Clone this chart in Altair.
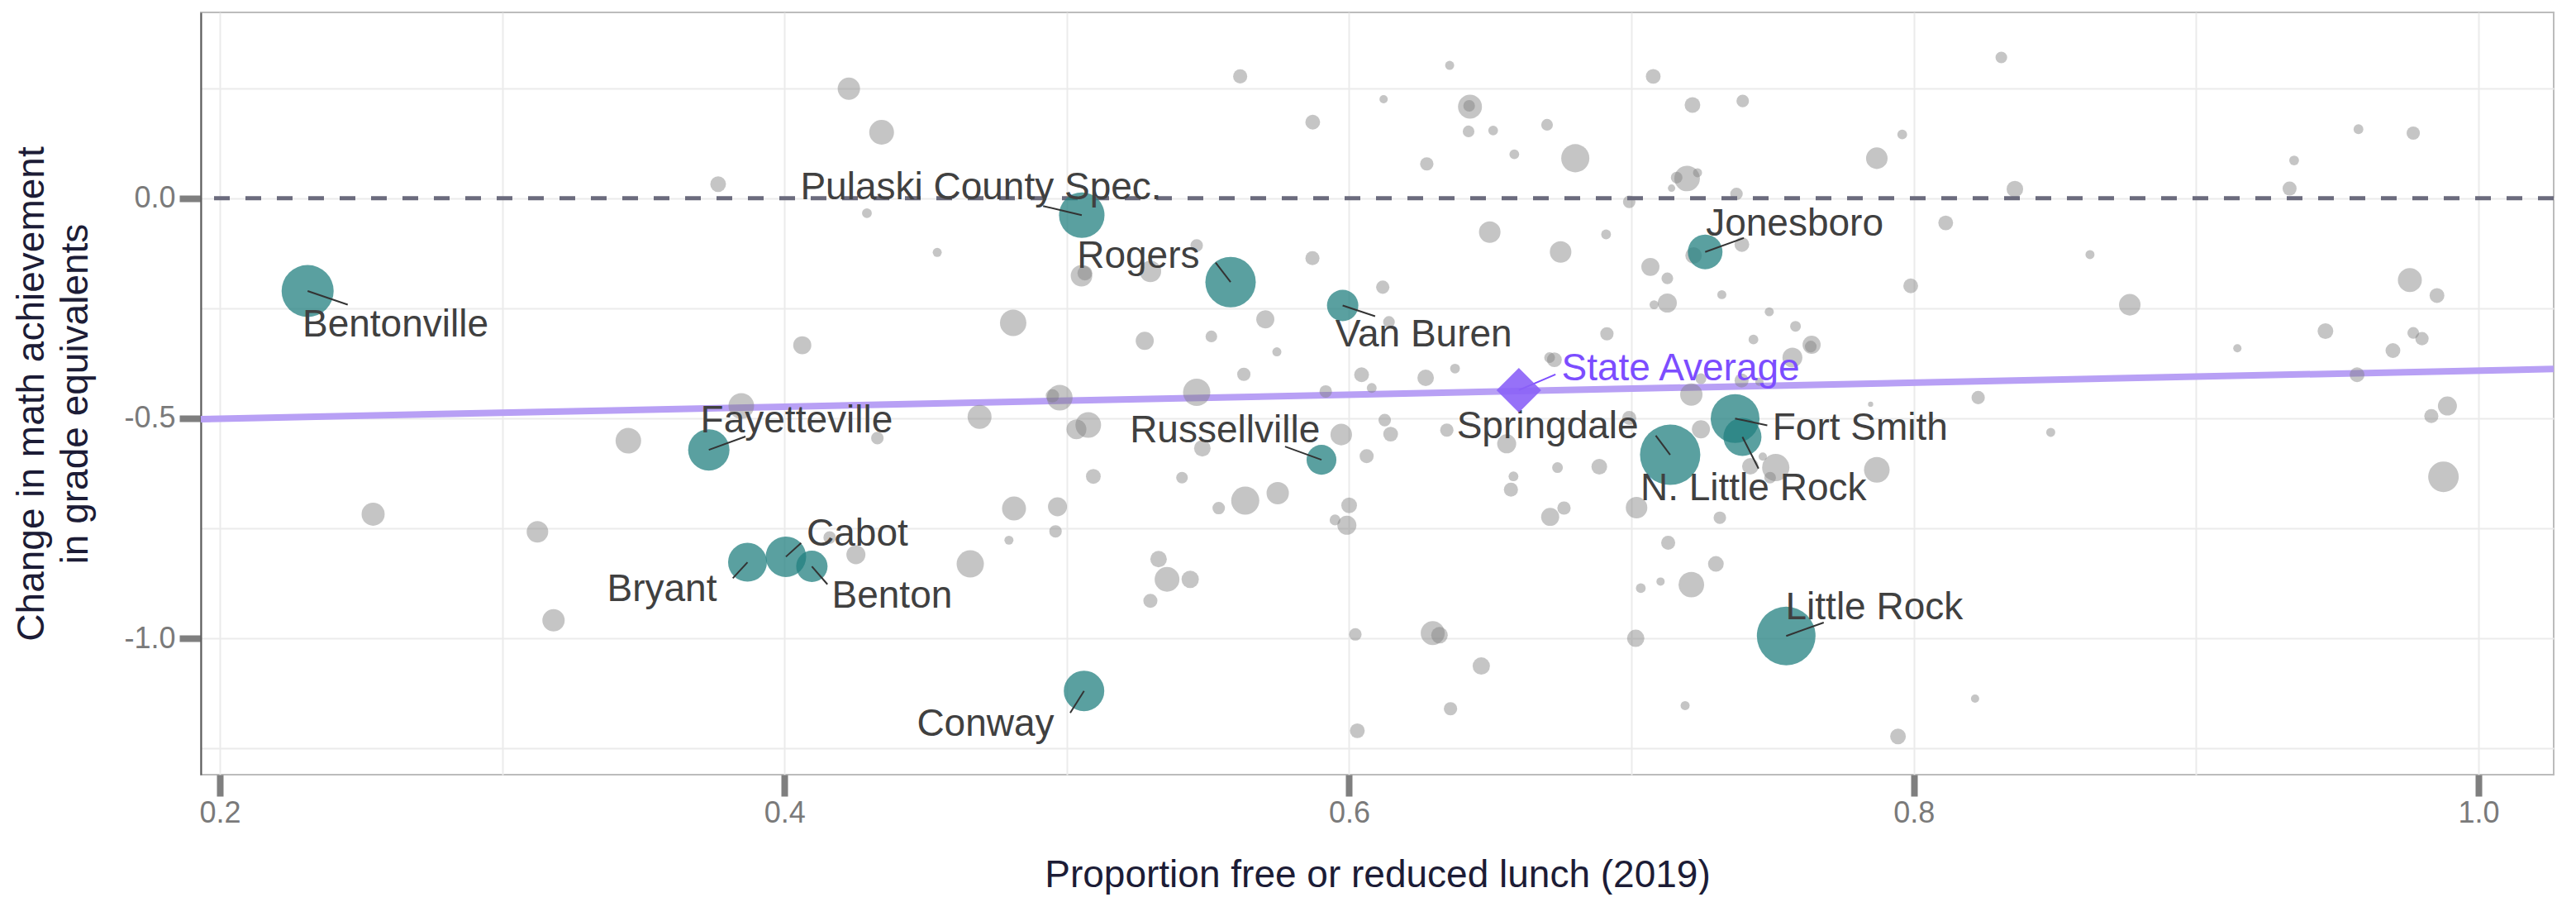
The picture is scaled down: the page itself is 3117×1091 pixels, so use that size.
import altair as alt
import pandas as pd

# ---------------- data ----------------
# other districts (grey bubbles)
gray_frl = [0.3447, 0.4228, 0.4344, 0.5614, 0.5871, 0.3765, 0.4292, 0.4541, 0.5052, 0.5064,
            0.5296, 0.546, 0.587, 0.481, 0.5703, 0.4063, 0.5276, 0.5512, 0.5744, 0.5627,
            0.4975, 0.4949, 0.546, 0.3847, 0.4691, 0.5076, 0.5034, 0.4329, 0.548, 0.6356,
            0.7077, 0.6122, 0.6428, 0.6425, 0.7216, 0.7394, 0.7959, 0.6423, 0.651, 0.6701,
            0.6585, 0.6275, 0.6801, 0.7869, 0.7197, 0.716, 0.7234, 0.7142, 0.7372, 0.6992,
            0.8113, 0.6498, 0.691, 0.722, 0.7391, 0.6749, 0.7067, 0.7127, 0.7989, 0.6119,
            0.732, 0.7127, 0.708, 0.7488, 0.6141, 0.6913, 0.7581, 0.7432, 0.7638, 0.7635,
            0.6727, 0.671, 0.757, 0.6044, 0.6271, 0.6375, 0.608, 0.5917, 0.7246, 0.739,
            0.7453, 0.7212, 0.8228, 0.7847, 0.6992, 0.6126, 0.5972, 0.6147, 0.6346, 0.6558,
            0.7246, 0.831, 0.9575, 0.9769, 0.9347, 0.8358, 0.9331, 0.8624, 0.8765, 0.9757,
            0.9853, 0.9458, 0.9146, 0.9769, 0.98, 0.9697, 0.957, 0.989, 0.9833, 0.8485,
            0.2543, 0.3125, 0.3182, 0.5094, 0.5408, 0.5632, 0.5747, 0.5538, 0.4813, 0.4967,
            0.496, 0.4795, 0.416, 0.4253, 0.4658, 0.5325, 0.5355, 0.5437, 0.5296, 0.6062,
            0.6738, 0.6886, 0.6582, 0.6573, 0.6, 0.6761, 0.6712, 0.595, 0.5992, 0.7018,
            0.7313, 0.7421, 0.7511, 0.7491, 0.7869, 0.7465, 0.713, 0.7299, 0.7212, 0.7033,
            0.7103, 0.6022, 0.6296, 0.632, 0.7015, 0.6468, 0.6359, 0.719, 0.6029, 0.7944,
            0.8217, 0.9876]
gray_change = [-0.551, 0.249, 0.150, 0.277, 0.173, 0.032, -0.034, -0.123, -0.176, -0.170,
               -0.166, -0.107, -0.136, -0.283, -0.275, -0.334, -0.324, -0.314, -0.349, -0.400,
               -0.453, -0.449, -0.441, -0.472, -0.497, -0.515, -0.525, -0.545, -0.568, 0.302,
               0.277, 0.225, 0.208, 0.210, 0.212, 0.221, 0.145, 0.152, 0.154, 0.167,
               0.100, 0.078, 0.091, 0.091, 0.045, 0.047, 0.058, 0.023, 0.010, -0.008,
               -0.056, -0.077, -0.082, -0.130, -0.105, -0.122, -0.156, -0.182, -0.199, -0.202,
               -0.219, -0.238, -0.242, -0.258, -0.281, -0.308, -0.291, -0.321, -0.333, -0.337,
               -0.367, -0.362, -0.362, -0.401, -0.408, -0.387, -0.431, -0.439, -0.410, -0.414,
               -0.417, -0.446, -0.453, -0.468, -0.499, -0.504, -0.537, -0.536, -0.527, -0.558,
               -0.525, 0.320, 0.157, 0.148, 0.086, 0.021, 0.022, -0.128, -0.242, -0.186,
               -0.221, -0.302, -0.341, -0.306, -0.319, -0.346, -0.401, -0.472, -0.495, -0.532,
               -0.718, -0.758, -0.959, -0.632, -0.635, -0.687, -0.670, -0.704, -0.705, -0.701,
               -0.757, -0.777, -0.771, -0.810, -0.831, -0.820, -0.866, -0.866, -0.915, -0.586,
               -0.612, -0.610, -0.632, -0.662, -0.698, -0.704, -0.724, -0.731, -0.743, -0.703,
               -0.726, -0.609, -0.612, -0.635, -0.617, -0.587, -0.783, -0.831, -0.878, -0.886,
               -0.871, -0.991, -0.988, -0.993, -1.000, -1.063, -1.160, -1.153, -1.210, -1.223,
               -1.137, -0.633]
gray_enroll = [9.6, 7.3, 9.0, 2.9, 3.2, 3.6, 1.4, 1.2, 6.8, 3.2,
               6.8, 2.3, 2.9, 10.2, 4.8, 4.8, 4.8, 2.0, 1.2, 2.6,
               9.6, 2.6, 10.9, 9.6, 8.4, 9.6, 5.8, 2.3, 4.0, 1.2,
               3.2, 1.0, 8.4, 2.0, 3.6, 2.3, 1.4, 2.0, 1.4, 2.0,
               1.4, 2.6, 11.6, 6.8, 9.6, 2.0, 1.2, 0.8, 2.3, 2.3,
               3.2, 6.8, 1.4, 4.0, 3.2, 6.8, 4.8, 2.0, 3.2, 2.6,
               1.2, 5.3, 1.2, 1.2, 2.0, 2.6, 1.7, 1.4, 4.8, 2.0,
               3.2, 1.7, 5.8, 3.2, 4.0, 1.4, 1.4, 2.3, 1.7, 2.9,
               1.0, 7.3, 2.6, 0.4, 2.9, 2.3, 6.8, 3.2, 2.6, 5.3,
               4.8, 2.0, 1.4, 2.6, 1.4, 4.0, 2.9, 1.2, 6.8, 8.4,
               3.2, 3.6, 1.0, 2.0, 2.6, 3.2, 3.2, 5.3, 2.9, 1.2,
               7.8, 6.8, 7.3, 3.2, 2.0, 11.6, 7.3, 2.3, 8.4, 5.3,
               2.3, 1.2, 2.3, 5.3, 10.9, 4.0, 9.0, 4.4, 2.9, 2.9,
               1.7, 3.6, 1.4, 2.9, 3.6, 2.6, 4.8, 1.7, 5.3, 6.8,
               2.3, 4.0, 10.9, 2.0, 9.6, 1.0, 2.9, 3.6, 9.6, 1.4,
               1.0, 2.3, 8.4, 4.0, 4.4, 4.4, 2.6, 1.2, 3.2, 3.6,
               1.0, 13.7]

# highlighted districts (teal bubbles)
dist_names = ["Bentonville", "Pulaski County Spec.", "Rogers", "Van Buren", "Jonesboro",
              "Fayetteville", "Russellville", "Springdale", "Fort Smith", "N. Little Rock",
              "Little Rock", "Cabot", "Bryant", "Benton", "Conway"]
dist_frl = [0.2311, 0.5053, 0.558, 0.5977, 0.7261, 0.3732, 0.5902, 0.7137, 0.7367, 0.7393,
            0.7548, 0.4005, 0.3869, 0.4097, 0.5061]
dist_change = [-0.2108, -0.0383, -0.1905, -0.2436, -0.1219, -0.5718, -0.5943, -0.583, -0.5004,
               -0.5423, -0.9946, -0.8146, -0.8272, -0.8366, -1.1196]
dist_enroll = [39.7, 30.3, 37.2, 14.4, 17.6, 25.0, 13.0, 53.3, 34.8, 21.2, 50.4, 24.0, 22.1,
               14.4, 24.0]
# repelled label anchors and leader-line ends
label_frl = [0.2622, 0.4696, 0.5253, 0.6264, 0.7578, 0.4043, 0.556, 0.6703, 0.781, 0.7432,
             0.786, 0.4258, 0.3566, 0.4381, 0.4712]
label_change = [-0.2884, 0.0246, -0.132, -0.3112, -0.0577, -0.5056, -0.5286, -0.5195, -0.5222,
                -0.6595, -0.9297, -0.7624, -0.889, -0.9046, -1.1954]
leader_frl = [0.2453, 0.4916, 0.5527, 0.6092, 0.7398, 0.3862, 0.5773, 0.7086, 0.7481, 0.745,
              0.7681, 0.4059, 0.3817, 0.4152, 0.5012]
leader_change = [-0.2417, -0.0177, -0.1461, -0.268, -0.0902, -0.5415, -0.5642, -0.5393, -0.516,
                 -0.6144, -0.9641, -0.7834, -0.8635, -0.8773, -1.1696]

# state average
state_name = ["State Average"]
state_frl = [0.6601]
state_change = [-0.436]
state_label_frl = [0.7174]
state_label_change = [-0.3868]
state_leader_frl = [0.6731]
state_leader_change = [-0.4002]

# state trend line and reference line
trend_frl = [0.19327, 1.02664]
trend_change = [-0.502, -0.388]
zero_ref = [0.0]

x_ticks = [0.2, 0.3, 0.4, 0.5, 0.6, 0.7, 0.8, 0.9, 1.0]
y_ticks = [0.25, 0.0, -0.25, -0.5, -0.75, -1.0, -1.25]
X_DOMAIN = [0.19327, 1.02664]
Y_DOMAIN = [-1.3099, 0.4224]

# ---------------- tables ----------------
gray_df = pd.DataFrame({"frl": gray_frl, "change": gray_change, "enroll": gray_enroll})
dist_df = pd.DataFrame({"name": dist_names, "frl": dist_frl, "change": dist_change,
                        "enroll": dist_enroll, "frl2": leader_frl, "change2": leader_change})
label_df = pd.DataFrame({"name": dist_names, "frl": label_frl, "change": label_change})
state_df = pd.DataFrame({"name": state_name, "frl": state_frl, "change": state_change,
                         "frl2": state_leader_frl, "change2": state_leader_change})
state_label_df = pd.DataFrame({"name": state_name, "frl": state_label_frl,
                               "change": state_label_change})
trend_df = pd.DataFrame({"frl": trend_frl, "change": trend_change})
zero_df = pd.DataFrame({"change": zero_ref})

FONT = "Liberation Sans"
TITLE_COLOR = "#1c1c36"
TICK_COLOR = "#7f7f7f"
LABEL_COLOR = "#7a7a7a"

x_axis = alt.Axis(
    values=x_ticks,
    grid=True, gridColor="#ebebeb", gridWidth=2,
    domain=False,
    tickSize=26, tickWidth=8, tickColor=TICK_COLOR,
    tickOpacity={"condition": {"test": "round(datum.value*10) % 2 == 0", "value": 1}, "value": 0},
    labelExpr="round(datum.value*10) % 2 == 0 ? replace(format(datum.value, '.1f'), '\u2212', '-') : ''",
    labelFont=FONT, labelFontSize=36, labelColor=LABEL_COLOR, labelPadding=3,
    title="Proportion free or reduced lunch (2019)",
    titleFont=FONT, titleFontSize=46, titleFontWeight="normal", titleColor=TITLE_COLOR,
    titleBaseline="alphabetic", titleY=135,
)
y_axis = alt.Axis(
    values=y_ticks,
    grid=True, gridColor="#ebebeb", gridWidth=2,
    domain=True, domainColor="#5a5a5a", domainWidth=2,
    tickSize=26, tickWidth=8, tickColor=TICK_COLOR,
    tickOpacity={"condition": {"test": "round(datum.value*4) % 2 == 0", "value": 1}, "value": 0},
    labelExpr="round(datum.value*4) % 2 == 0 ? replace(format(datum.value, '.1f'), '\u2212', '-') : ''",
    labelFont=FONT, labelFontSize=36, labelColor=LABEL_COLOR, labelPadding=5,
    title=["Change in math achievement", "in grade equivalents"],
    titleFont=FONT, titleFontSize=46, titleFontWeight="normal", titleColor=TITLE_COLOR,
    titleAngle=270, titleAlign="center", titleBaseline="alphabetic", titleLineHeight=53,
    titleX=-191, titleY=461,
)

xs = alt.Scale(domain=X_DOMAIN, nice=False, zero=False)
ys = alt.Scale(domain=Y_DOMAIN, nice=False, zero=False)
size_scale = alt.Scale(domain=[0, 60], range=[0, 6000], zero=True)


def X(field="frl"):
    return alt.X(field, type="quantitative", scale=xs, axis=x_axis)


def Y(field="change"):
    return alt.Y(field, type="quantitative", scale=ys, axis=y_axis)


trend = alt.Chart(trend_df).mark_line(color="#b8a0f5", strokeWidth=8).encode(x=X(), y=Y())

gray = alt.Chart(gray_df).mark_circle(color="#7f7f7f", opacity=0.45).encode(
    x=X(), y=Y(), size=alt.Size("enroll:Q", scale=size_scale, legend=None))

zero = alt.Chart(zero_df).mark_rule(color="#6b6b7d", strokeWidth=5, strokeDash=[19, 19]).encode(
    y=Y())

teal = alt.Chart(dist_df).mark_circle(color="#238080", opacity=0.75).encode(
    x=X(), y=Y(), size=alt.Size("enroll:Q", scale=size_scale, legend=None))

leaders = alt.Chart(dist_df).mark_rule(color="#333333", strokeWidth=2).encode(
    x=X(), y=Y(), x2="frl2:Q", y2="change2:Q")

labels = alt.Chart(label_df).mark_text(
    font=FONT, fontSize=46, color="#404040", align="center", baseline="middle").encode(
    x=X(), y=Y(), text="name:N")

state_leader = alt.Chart(state_df).mark_rule(color="#7c4dff", strokeWidth=2).encode(
    x=X(), y=Y(), x2="frl2:Q", y2="change2:Q")

state_pt = alt.Chart(state_df).mark_point(
    shape="diamond", filled=True, size=2916, color="#8b62f7", opacity=0.9).encode(x=X(), y=Y())

state_text = alt.Chart(state_label_df).mark_text(
    font=FONT, fontSize=46, color="#7c4dff", align="center", baseline="middle").encode(
    x=X(), y=Y(), text="name:N")

chart = alt.layer(
    trend, gray, zero, teal, leaders, labels, state_leader, state_pt, state_text
).properties(
    width=2847, height=922,
    autosize=alt.AutoSizeParams(type="none"),
    padding={"left": 235, "top": 7, "right": 10, "bottom": 145},
    background="white",
).configure(font=FONT).configure_view(stroke="#bcbcbc", strokeWidth=2)

chart.save("out.html", embed_options={"renderer": "svg", "actions": False})
